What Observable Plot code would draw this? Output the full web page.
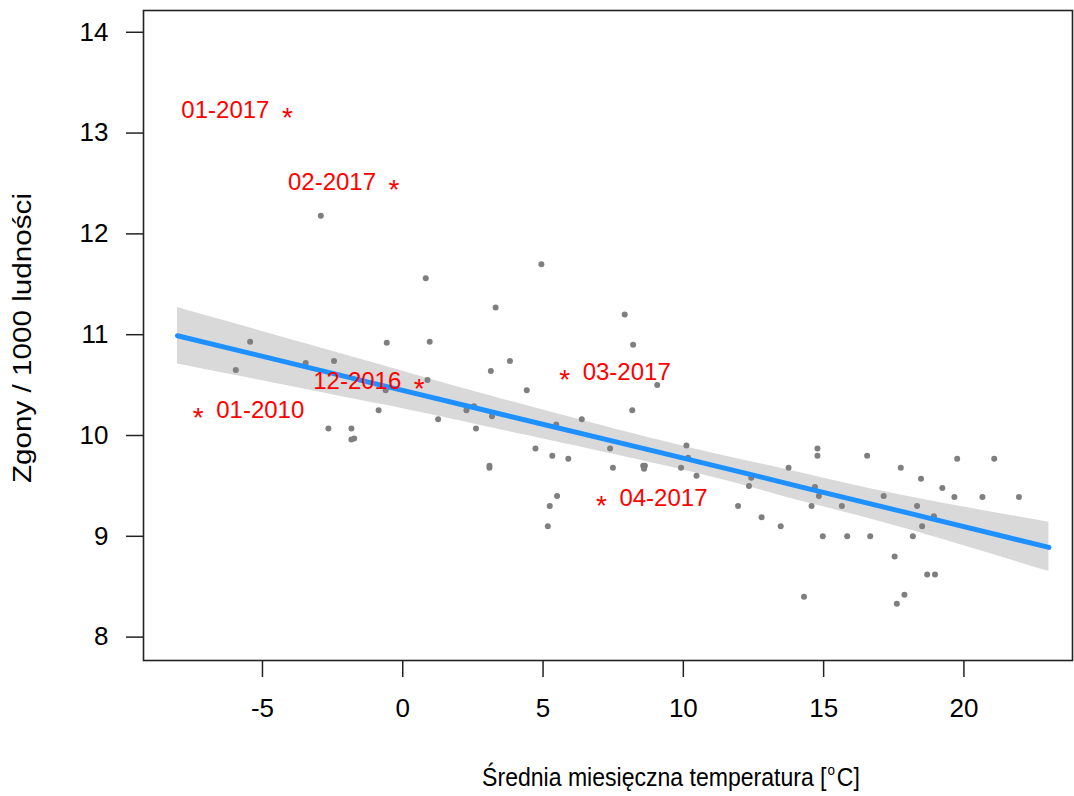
<!DOCTYPE html>
<html>
<head>
<meta charset="utf-8">
<script src="https://cdn.jsdelivr.net/npm/d3@7"></script>
<script src="https://cdn.jsdelivr.net/npm/@observablehq/plot@0.6"></script>
<style>
  html, body { margin: 0; padding: 0; background: #fff; }
</style>
</head>
<body>
<div id="chart"></div>
<script>
// Monthly mean temperature [°C] (x) and deaths per 1000 inhabitants (y)
const tempX = [-2.92, 0.82, 3.31, 4.94, 7.91,
  -5.44, -5.95, -3.46, -2.45, -0.57, 0.96, 0.88, -0.61, -0.86, -2.65, -1.83, -1.83, -1.73,
  1.26, 2.27, 2.54, 2.61, 3.14, 3.18, 3.09, 3.09, 3.82, 4.42, 4.73, 5.33, 5.47, 5.90, 6.38,
  5.50, 5.24, 5.17, 7.39,
  8.21, 9.07, 8.18, 7.49, 8.57, 8.63, 8.60, 10.11, 10.17, 9.92, 10.47, 12.34, 12.42, 11.95,
  12.79, 13.47, 13.75, 14.30, 14.78, 14.78, 14.69, 14.83, 14.57, 14.97, 15.65, 15.84, 16.55,
  16.66, 17.14, 17.53, 17.75, 17.88, 17.61, 18.18, 18.33, 18.47, 18.51, 18.69, 18.97, 18.93,
  19.23, 19.66, 19.76, 20.66, 21.08, 21.96];
const deathY = [12.18, 11.56, 11.27, 11.70, 11.20,
  10.93, 10.65, 10.72, 10.74, 10.92, 10.93, 10.55, 10.45, 10.25, 10.07, 10.07, 9.96, 9.97,
  10.16, 10.25, 10.29, 10.07, 10.64, 10.19, 9.70, 9.68, 10.74, 10.45, 9.87, 9.80, 10.11, 9.77, 10.16,
  9.40, 9.30, 9.10, 9.87,
  10.90, 10.50, 10.25, 9.68, 9.70, 9.70, 9.67, 9.90, 9.78, 9.68, 9.60, 9.50, 9.58, 9.30,
  9.19, 9.10, 9.68, 8.40, 9.87, 9.80, 9.49, 9.40, 9.30, 9.00, 9.30, 9.00, 9.80,
  9.00, 9.40, 8.80, 9.68, 8.42, 8.33, 9.00, 9.30, 9.57, 9.10, 8.62, 8.62, 9.20,
  9.48, 9.39, 9.77, 9.39, 9.77, 9.39];

// Highlighted months
const starLabels = ["01-2017", "02-2017", "12-2016", "01-2010", "03-2017", "04-2017"];
const starX = [-4.11, -0.31, 0.59, -7.29, 5.77, 7.08];
const starY = [13.23, 12.51, 10.54, 10.25, 10.63, 9.38];
const starSide = ["left", "left", "left", "right", "right", "right"];

// Linear fit with confidence band
const fitX  = [-8.03, -0.78, 2.78, 9.19, 12.75, 14.18, 17.74, 23.03];
const fitY  = [10.99, 10.50, 10.26, 9.83, 9.59, 9.49, 9.25, 8.89];
const fitLo = [10.71, 10.31, 10.10, 9.71, 9.46, 9.35, 9.09, 8.65];
const fitHi = [11.27, 10.70, 10.42, 9.95, 9.72, 9.63, 9.41, 9.14];

const xTicks = [-5, 0, 5, 10, 15, 20];
const yTicks = [8, 9, 10, 11, 12, 13, 14];

const xTitle = "Średnia miesięczna temperatura [";
const yTitle = "Zgony / 1000 ludności";

const points = tempX.map((x, i) => ({x, y: deathY[i]}));
const stars = starLabels.map((label, i) => ({label, x: starX[i], y: starY[i], side: starSide[i]}));
const fit = fitX.map((x, i) => ({x, y: fitY[i], lo: fitLo[i], hi: fitHi[i]}));

const FONT = "'Liberation Sans', Arial, Helvetica, sans-serif";

const plot = Plot.plot({
  width: 1074,
  height: 796,
  marginLeft: 143,
  marginRight: 2,
  marginTop: 10,
  marginBottom: 136,
  style: {fontFamily: FONT, background: "white", color: "black"},
  x: {domain: [-9.24, 23.87]},
  y: {domain: [7.768, 14.216]},
  marks: [
    Plot.areaY(fit, {x: "x", y1: "lo", y2: "hi", fill: "#d9d9d9", curve: "natural"}),
    Plot.dot(points, {x: "x", y: "y", r: 3, fill: "#7f7f7f", stroke: "none"}),
    Plot.line(fit, {x: "x", y: "y", stroke: "#1e90ff", strokeWidth: 5, strokeLinecap: "round"}),
    Plot.frame({stroke: "#222", strokeWidth: 1.6}),
    Plot.axisX(xTicks, {tickSize: 17, tickPadding: 21, fontSize: 26, label: null, strokeWidth: 1.5, stroke: "#222", tickFormat: d => String(d)}),
    Plot.axisY(yTicks, {tickSize: 17, tickPadding: 18, fontSize: 26, label: null, strokeWidth: 1.5, stroke: "#222", tickFormat: d => String(d)}),
    Plot.text(stars, {x: "x", y: "y", text: () => "*", fill: "#ff0000", fontSize: 28, dy: 8}),
    Plot.text(stars.filter(d => d.side === "left"), {x: "x", y: "y", text: "label", fill: "#ff0000", fontSize: 24, textAnchor: "end", dx: -18}),
    Plot.text(stars.filter(d => d.side === "right"), {x: "x", y: "y", text: "label", fill: "#ff0000", fontSize: 24, textAnchor: "start", dx: 18})
  ]
});

const svg = d3.select(plot);
svg.append("text")
  .attr("transform", "translate(24,338) rotate(-90)")
  .attr("text-anchor", "middle")
  .attr("dominant-baseline", "middle")
  .attr("font-family", FONT)
  .attr("font-size", 26)
  .attr("fill", "black")
  .attr("textLength", 290)
  .attr("lengthAdjust", "spacingAndGlyphs")
  .text(yTitle);

const xt = svg.append("text")
  .attr("transform", "translate(671,786) scale(0.96,1.08)")
  .attr("text-anchor", "middle")
  .attr("font-family", FONT)
  .attr("font-size", 24)
  .attr("fill", "black");
xt.append("tspan").text(xTitle);
xt.append("tspan").attr("font-size", 14).attr("dx", 1).attr("dy", -10).text("o");
xt.append("tspan").attr("dx", 2).attr("dy", 10).text("C]");

document.getElementById("chart").appendChild(plot);
</script>
</body>
</html>
